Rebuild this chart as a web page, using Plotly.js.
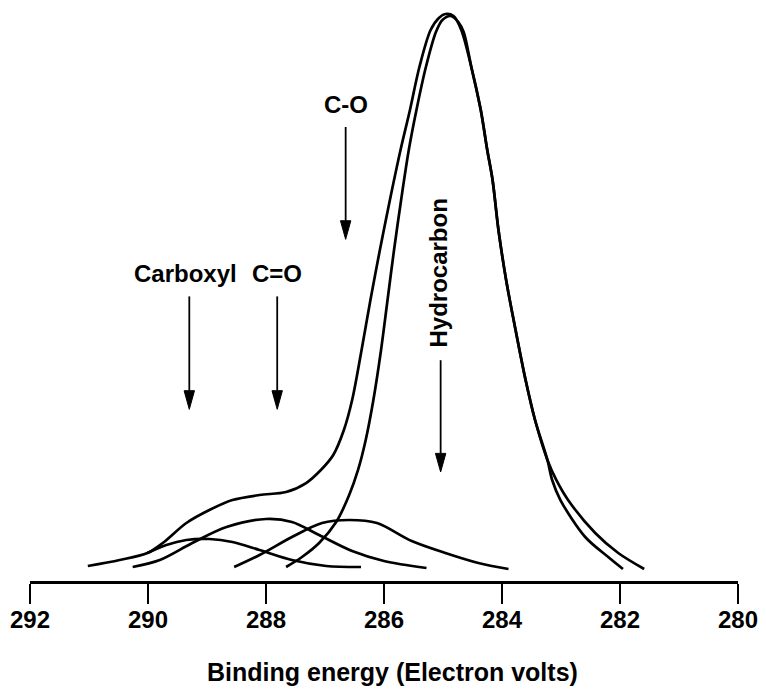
<!DOCTYPE html>
<html>
<head>
<meta charset="utf-8">
<script src="https://cdn.plot.ly/plotly-3.0.1.min.js"></script>
<style>html,body{margin:0;padding:0;background:#fff;}#chart{width:766px;height:691px;}</style>
</head>
<body>
<div id="chart"></div>
<script>
// Binding energy (eV) and intensity (arbitrary, hydrocarbon peak = 100)
const envelopeE = [291.02, 290.48, 290.01, 289.75, 289.35, 288.96, 288.57, 288.11, 287.66, 287.32, 287.07, 286.86, 286.68, 286.54, 286.38, 286.23, 286.07, 285.90, 285.72, 285.56, 285.40, 285.21, 285.07, 284.96, 284.82, 284.69, 284.52, 284.36, 284.25, 284.16, 284.06, 283.93, 283.77, 283.60, 283.44, 283.23, 283.08, 282.88, 282.42, 282.03, 281.59];
const envelopeI = [2.66, 3.72, 4.96, 6.73, 10.27, 12.57, 14.34, 15.23, 15.76, 17.35, 19.66, 22.31, 26.74, 32.05, 40.91, 49.76, 58.62, 67.47, 76.32, 83.41, 91.02, 97.57, 99.70, 100.41, 100.05, 97.57, 91.02, 83.41, 76.32, 71.01, 62.16, 53.30, 44.45, 35.59, 28.51, 21.43, 17.89, 14.34, 8.50, 4.96, 2.13];

const hydrocarbonE = [287.66, 287.39, 287.10, 286.81, 286.59, 286.44, 286.31, 286.18, 286.05, 285.94, 285.83, 285.71, 285.58, 285.45, 285.29, 285.12, 285.01, 284.87, 284.74, 284.65, 284.52, 284.36, 284.25, 284.16, 284.06, 283.93, 283.77, 283.60, 283.44, 283.23, 283.15, 283.01, 282.59, 282.20, 281.95];
const hydrocarbonI = [2.48, 4.25, 6.73, 10.45, 15.23, 19.66, 24.97, 32.05, 40.91, 49.76, 58.62, 67.47, 76.32, 83.41, 91.02, 97.22, 99.35, 100.05, 98.99, 97.22, 91.02, 83.41, 76.32, 71.01, 62.16, 53.30, 44.45, 35.59, 28.51, 21.43, 17.89, 14.34, 7.79, 4.25, 2.13];

const cOE = [288.54, 288.11, 287.56, 287.05, 286.59, 286.12, 285.53, 284.96, 284.40, 283.89];
const cOI = [2.48, 4.60, 7.79, 10.27, 10.80, 10.27, 7.08, 4.96, 3.19, 2.13];

const cdOE = [290.26, 289.80, 289.25, 288.67, 288.00, 287.56, 287.10, 286.54, 286.00, 285.28];
const cdOI = [2.48, 3.72, 6.73, 9.56, 10.98, 10.45, 8.15, 5.31, 3.54, 2.30];

const carboxylE = [290.01, 289.69, 289.35, 288.96, 288.57, 288.11, 287.56, 286.98, 286.39];
const carboxylI = [4.96, 6.38, 7.26, 7.44, 6.91, 5.49, 3.72, 2.66, 2.48];

const tickVals = [292, 290, 288, 286, 284, 282, 280];
const peakLabels = ['Carboxyl', 'C=O', 'C-O', 'Hydrocarbon'];
const peakEnergies = [289.30, 287.81, 286.65, 285.04];
const xTitle = 'Binding energy (Electron volts)';

const FONT = 'Liberation Sans, Arial, Helvetica, sans-serif';
const lineStyle = {color: '#000', width: 2.7, shape: 'spline', smoothing: 0.9};
function tr(x, y) { return {x: x, y: y, type: 'scatter', mode: 'lines', line: lineStyle, hoverinfo: 'skip', showlegend: false}; }

const traces = [
  tr(envelopeE, envelopeI),
  tr(hydrocarbonE, hydrocarbonI),
  tr(cOE, cOI),
  tr(cdOE, cdOI),
  tr(carboxylE, carboxylI)
];

// arrow geometry (tail, tip) in intensity units; head drawn as a filled triangle
const arrowTail = [50.4, 50.4, 80.4, 39.1];
const arrowTip  = [30.4, 30.4, 60.5, 19.3];
const headLen = 3.3;     // intensity units (~18 px)
const headHalf = 0.088;  // eV (~5 px)
const shapes = [];
peakLabels.forEach((lab, i) => {
  const e = peakEnergies[i];
  const base = arrowTip[i] + headLen;
  shapes.push({type: 'line', xref: 'x', yref: 'y', x0: e, x1: e, y0: arrowTail[i], y1: base,
               line: {color: '#000', width: 1.8}});
  shapes.push({type: 'path', xref: 'x', yref: 'y',
               path: `M ${e - headHalf},${base} L ${e + headHalf},${base} L ${e},${arrowTip[i]} Z`,
               fillcolor: '#000', line: {color: '#000', width: 1}});
});

const annotations = [];
const labelPos = [
  {x: 289.37, y: 54.4, angle: 0},
  {x: 287.82, y: 54.4, angle: 0},
  {x: 286.65, y: 84.3, angle: 0},
  {x: 285.08, y: 54.5, angle: -90}
];
peakLabels.forEach((lab, i) => {
  annotations.push({
    x: labelPos[i].x, y: labelPos[i].y, xref: 'x', yref: 'y',
    text: lab, showarrow: false, textangle: labelPos[i].angle,
    xanchor: 'center', yanchor: 'middle',
    font: {family: FONT, size: 24, color: '#000', weight: 'bold'}
  });
});
annotations.push({
  x: 0.5127, y: -0.158, xref: 'paper', yref: 'paper', text: xTitle, showarrow: false,
  xanchor: 'center', yanchor: 'middle',
  font: {family: FONT, size: 25, color: '#000', weight: 'bold'}
});

const layout = {
  width: 766, height: 691,
  margin: {l: 30, r: 28, t: 5, b: 110, pad: 0},
  paper_bgcolor: '#fff', plot_bgcolor: '#fff',
  showlegend: false,
  xaxis: {
    range: [292, 280], tickvals: tickVals, ticktext: tickVals.map(String),
    ticks: 'outside', ticklen: 20, tickwidth: 2.5, tickcolor: '#000',
    ticklabelstandoff: -4,
    showline: true, linecolor: '#000', linewidth: 2.5,
    showgrid: false, zeroline: false,
    tickfont: {family: FONT, size: 24, color: '#000', weight: 'bold'}
  },
  yaxis: {range: [0, 102], visible: false, showgrid: false, zeroline: false},
  shapes: shapes,
  annotations: annotations
};

Plotly.newPlot('chart', traces, layout, {displayModeBar: false, staticPlot: true});
</script>
</body>
</html>
